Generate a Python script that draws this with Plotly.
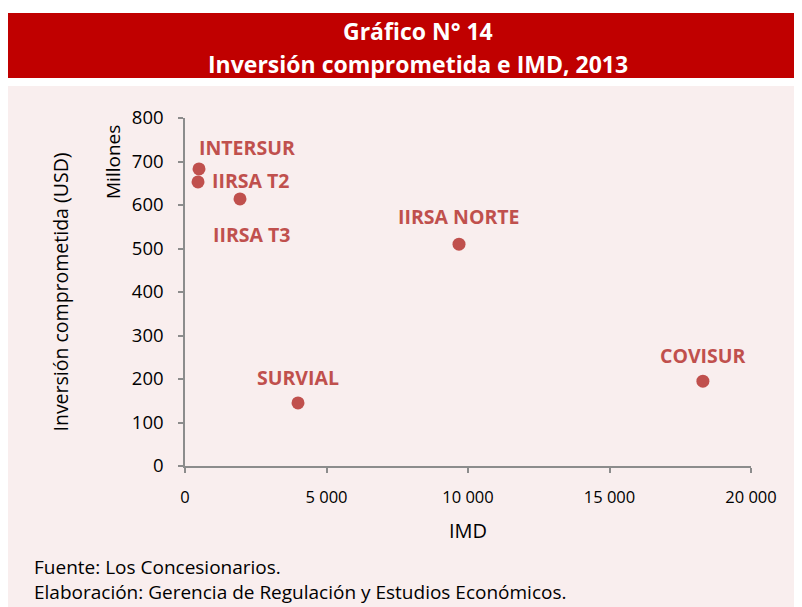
import plotly.graph_objects as go

names = ["INTERSUR", "IIRSA T2", "IIRSA T3", "SURVIAL", "IIRSA NORTE", "COVISUR"]
imd = [495, 460, 1943, 3993, 9682, 18300]
inversion = [683, 653, 614, 145, 510, 195]
label_dx = [48, 53, 12, 0, 0, 0]
label_dy = [21, 1, -36, 25, 28, 26]

x_ticks = [0, 5000, 10000, 15000, 20000]
x_tick_text = ["0", "5 000", "10 000", "15 000", "20 000"]
y_ticks = [0, 100, 200, 300, 400, 500, 600, 700, 800]

W, H = 802, 607
OFF = 8  # page body margin
L, R, T, B = 185, 751, 118, 466  # page pixel coords of plot area

def px(x):
    return (x - L) / (R - L)

def py(y):
    return (B - y) / (B - T)

RED = "#C0504D"
FONT = "Open Sans"

fig = go.Figure()
fig.add_trace(go.Scatter(
    x=imd, y=inversion, mode="markers",
    marker=dict(color=RED, size=13),
    showlegend=False, hoverinfo="skip", cliponaxis=False,
))

annotations = []
for n, x, y, dx, dy in zip(names, imd, inversion, label_dx, label_dy):
    annotations.append(dict(
        x=x, y=y, xref="x", yref="y", text="<b>%s</b>" % n, showarrow=False,
        xshift=dx, yshift=dy, xanchor="center", yanchor="middle",
        font=dict(family=FONT, size=19.5, color=RED),
    ))

def ann(x, y, text, size, color="black", xanchor="center", angle=0):
    return dict(x=px(x), y=py(y), xref="paper", yref="paper", text=text,
                showarrow=False, xanchor=xanchor, yanchor="middle", textangle=angle,
                font=dict(family=FONT, size=size, color=color))

annotations += [
    ann(418, 31, "<b>Gráfico N° 14</b>", 23, "white"),
    ann(418, 64, "<b>Inversión comprometida e IMD, 2013</b>", 23, "white"),
    ann(113, 162, "Millones", 19, angle=-90),
    ann(32, 567, "Fuente: Los Concesionarios.", 19, xanchor="left"),
    ann(32, 592, "Elaboración: Gerencia de Regulación y Estudios Económicos.", 19, xanchor="left"),
]

shapes = [
    dict(type="rect", xref="paper", yref="paper", x0=px(5), x1=px(810), y0=py(620), y1=py(86),
         fillcolor="#F9EEEE", line=dict(width=0), layer="below"),
    dict(type="rect", xref="paper", yref="paper", x0=px(7), x1=px(810), y0=py(78), y1=py(13),
         fillcolor="#C00000", line=dict(width=0), layer="below"),
]

fig.update_layout(
    width=W, height=H,
    margin=dict(l=L - OFF, r=W - (R - OFF), t=T - OFF, b=H - (B - OFF)),
    paper_bgcolor="white", plot_bgcolor="rgba(0,0,0,0)",
    font=dict(family=FONT, size=15, color="black"),
    annotations=annotations, shapes=shapes,
    xaxis=dict(
        range=[0, 20000], tickvals=x_ticks, ticktext=x_tick_text,
        showgrid=False, zeroline=False, showline=True, linecolor="#8C8C8C", linewidth=1.5,
        ticks="outside", ticklen=5, tickcolor="#8C8C8C", tickwidth=1.5,
        ticklabelstandoff=10, tickfont=dict(size=16.5),
        title=dict(text="IMD", font=dict(size=20), standoff=17),
    ),
    yaxis=dict(
        range=[0, 800], tickvals=y_ticks,
        showgrid=False, zeroline=False, showline=True, linecolor="#8C8C8C", linewidth=1.5,
        ticks="outside", ticklen=5, tickcolor="#8C8C8C", tickwidth=1.5,
        ticklabelstandoff=11, tickfont=dict(size=18.5),
        title=dict(text="Inversión comprometida (USD)", font=dict(size=19.5), standoff=58),
    ),
)

fig.write_html("out.html")
